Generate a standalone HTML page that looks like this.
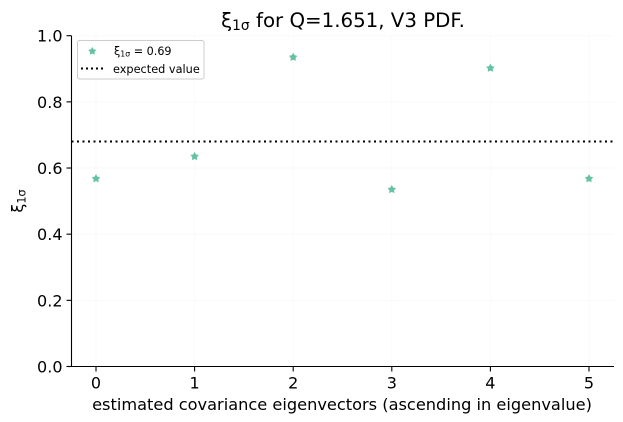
<!DOCTYPE html>
<html>
<head>
<meta charset="utf-8">
<style>
html,body{margin:0;padding:0;background:#fff;width:623px;height:422px;overflow:hidden}
svg{display:block}
text{font-family:"DejaVu Sans","Liberation Sans",sans-serif;fill:#000}
</style>
</head>
<body>
<svg id="chart" width="623" height="422" viewBox="0 0 623 422" xmlns="http://www.w3.org/2000/svg"></svg>
<script>
const eigenvectors = [0, 1, 2, 3, 4, 5];
const xiValues = [0.568, 0.635, 0.935, 0.535, 0.902, 0.568];
const expectedValue = 0.68;
const xTickLabels = ["0", "1", "2", "3", "4", "5"];
const yTickValues = [0, 0.2, 0.4, 0.6, 0.8, 1];
const yTickLabels = ["0.0", "0.2", "0.4", "0.6", "0.8", "1.0"];

const svg = document.getElementById('chart');
const NS = 'http://www.w3.org/2000/svg';
const L = 71.5, R = 614, T = 35.7, B = 366.5;
const X0 = 96, XUNIT = 98.6;
function xs(v) { return X0 + v * XUNIT; }
function ys(v) { return B - v * (B - T); }
function mk(tag, attrs, parent) {
  const e = document.createElementNS(NS, tag);
  for (const k in attrs) e.setAttribute(k, attrs[k]);
  (parent || svg).appendChild(e);
  return e;
}
function starPoints(cx, cy, r) {
  const pts = [];
  for (let i = 0; i < 10; i++) {
    const a = -Math.PI / 2 + i * Math.PI / 5;
    const rr = i % 2 ? r * 0.55 : r;
    pts.push((cx + rr * Math.cos(a)).toFixed(2) + ',' + (cy + rr * Math.sin(a)).toFixed(2));
  }
  return pts.join(' ');
}

// grid
eigenvectors.forEach(function (v) {
  const g = mk('line', { x1: xs(v), x2: xs(v), y1: T, y2: B, stroke: '#f8f8f8', 'stroke-width': 0.8 });
  
  
});
yTickValues.forEach(function (v) {
  const g = mk('line', { x1: L, x2: R, y1: ys(v), y2: ys(v), stroke: '#f8f8f8', 'stroke-width': 0.8 });
  
  
});

// expected line
const exp = mk('line', { x1: L, x2: R, y1: ys(expectedValue), y2: ys(expectedValue), stroke: '#000', 'stroke-width': 2, 'stroke-dasharray': '2 3.5' });



// points
xiValues.forEach(function (v, i) {
  const p = mk('polygon', { points: starPoints(xs(eigenvectors[i]), ys(v), 3.7), fill: '#66c2a5', stroke: '#66c2a5', 'stroke-width': 0.8 });
  
  
});

// spines
const spineL = mk('line', { x1: L, x2: L, y1: T, y2: B + 0.5, stroke: '#000', 'stroke-width': 1.1 });


const spineB = mk('line', { x1: L - 0.5, x2: R, y1: B, y2: B, stroke: '#000', 'stroke-width': 1.1 });



// x ticks
eigenvectors.forEach(function (v, i) {
  const t = mk('line', { x1: xs(v), x2: xs(v), y1: B, y2: B + 5, stroke: '#000', 'stroke-width': 1.1 });
  
  
  const l = mk('text', { x: xs(v), y: B + 22, 'text-anchor': 'middle', 'font-size': 16 });
  l.textContent = xTickLabels[i];
  
  
});
// y ticks
yTickValues.forEach(function (v, i) {
  const t = mk('line', { x1: L - 5, x2: L, y1: ys(v), y2: ys(v), stroke: '#000', 'stroke-width': 1.1 });
  
  
  const l = mk('text', { x: L - 9, y: ys(v) + 6, 'text-anchor': 'end', 'font-size': 16 });
  l.textContent = yTickLabels[i];
  
  
});

// title
const title = mk('text', { x: 343, y: 27, 'text-anchor': 'middle', 'font-size': 19.8 });


title.innerHTML = 'ξ<tspan font-size="13.8" dy="3">1σ</tspan><tspan dy="-3"> for Q=1.651, V3 PDF.</tspan>';

// x axis title
const xt = mk('text', { x: 342, y: 410, 'text-anchor': 'middle', 'font-size': 16.2 });


xt.textContent = 'estimated covariance eigenvectors (ascending in eigenvalue)';

// y axis title
const yt = mk('text', { x: 0, y: 0, 'text-anchor': 'middle', 'font-size': 16, transform: 'translate(23 201) rotate(-90)' });


yt.innerHTML = 'ξ<tspan font-size="11.2" dy="2.6">1σ</tspan>';

// legend
const lg = mk('g', {});


const box = mk('rect', { x: 77.5, y: 40.5, width: 126.5, height: 38.5, rx: 2, fill: '#fff', 'fill-opacity': 0.8, stroke: '#ccc', 'stroke-width': 1 }, lg);


const ls = mk('polygon', { points: starPoints(92.3, 51.2, 3.5), fill: '#66c2a5', stroke: '#66c2a5', 'stroke-width': 0.8 }, lg);


const lt = mk('text', { x: 114, y: 55, 'font-size': 11.2 }, lg);


lt.innerHTML = 'ξ<tspan font-size="7.8" dy="1.6">1σ</tspan><tspan dy="-1.6"> = 0.69</tspan>';
const ll = mk('line', { x1: 81, x2: 104, y1: 68.5, y2: 68.5, stroke: '#000', 'stroke-width': 2, 'stroke-dasharray': '2 3' }, lg);


const lt2 = mk('text', { x: 113, y: 73, 'font-size': 11.3 }, lg);


lt2.textContent = 'expected value';
</script>
</body>
</html>
